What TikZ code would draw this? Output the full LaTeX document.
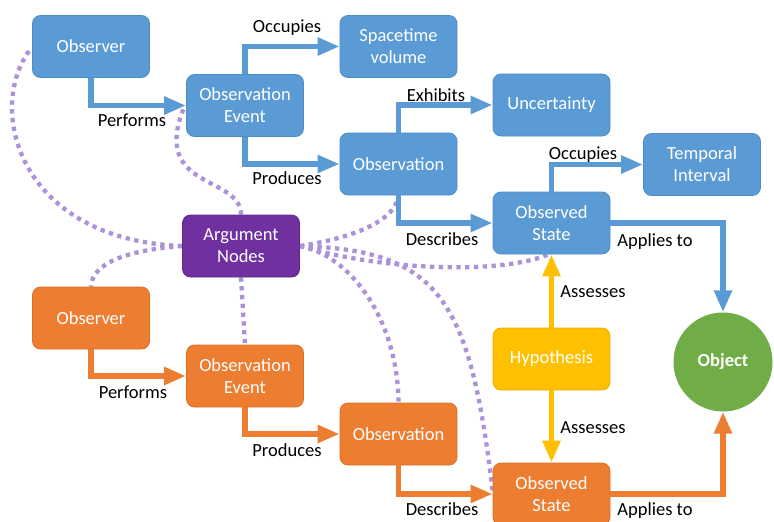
\documentclass[tikz,border=0pt]{standalone}
\usepackage{fontspec}
\setmainfont{Carlito}
\usetikzlibrary{arrows.meta,backgrounds,calc}
\definecolor{cblue}{HTML}{5B9BD5}
\definecolor{cblueedge}{HTML}{4F8CC6}
\definecolor{corange}{HTML}{ED7D31}
\definecolor{corangeedge}{HTML}{D96F28}
\definecolor{cyellow}{HTML}{FFC000}
\definecolor{cyellowedge}{HTML}{EBB000}
\definecolor{cgreen}{HTML}{70AD47}
\definecolor{cpurple}{HTML}{7030A0}
\definecolor{cpurpleedge}{HTML}{5F2790}
\definecolor{dotc}{HTML}{AD92DA}
\begin{document}
\begin{tikzpicture}[x=1pt,y=-1pt,
  box/.style={rectangle, rounded corners=8pt, minimum width=117pt, minimum height=62pt,
    align=center, text=white, line width=0.8pt, inner sep=2pt,
    font=\fontsize{18.5}{22}\selectfont},
  bluebox/.style={box, fill=cblue, draw=cblueedge},
  orbox/.style={box, fill=corange, draw=corangeedge},
  hypbox/.style={box, fill=cyellow, draw=cyellowedge},
  argbox/.style={box, fill=cpurple, draw=cpurpleedge},
  objnode/.style={circle, fill=cgreen, minimum size=99pt, inner sep=0pt, text=white,
    font=\fontsize{18.5}{22}\selectfont\bfseries},
  lbl/.style={anchor=base, text=black, inner sep=0pt, font=\fontsize{18.5}{22}\selectfont},
  flow/.style={line width=5.5pt, line join=miter, -{Triangle[length=22pt,width=17pt]}},
  argline/.style={draw=dotc, line width=4.3pt, dash pattern=on 4.3pt off 4.5pt}
]
\useasboundingbox (0,0) rectangle (774,522);

% boxes
\node[bluebox] (obs1) at (91,46.5) {Observer};
\node[bluebox] (evt1) at (245,105.5) {Observation\\Event};
\node[bluebox] (space) at (398.5,46.5) {Spacetime\\volume};
\node[bluebox] (unc) at (551.5,105) {Uncertainty};
\node[bluebox] (obsn1) at (398.5,164) {Observation};
\node[bluebox] (temp) at (702,164.5) {Temporal\\Interval};
\node[bluebox] (st1) at (551.5,223) {Observed\\State};
\node[argbox] (arg) at (241,246) {Argument\\Nodes};
\node[orbox] (obs2) at (91,318) {Observer};
\node[orbox] (evt2) at (245,376) {Observation\\Event};
\node[hypbox] (hyp) at (551.5,359) {Hypothesis};
\node[orbox] (obsn2) at (398.5,434) {Observation};
\node[orbox] (st2) at (551.5,494) {Observed\\State};
\node[objnode] (obj) at (723,362) {Object};

% dotted links from the argument node
\begin{scope}[on background layer]
\draw[argline] (arg.west) .. controls (20,240) and (-15,110) .. ($(obs1.west)+(-2,3)$);
\draw[argline] (arg.west) .. controls (130,250) and (92,262) .. (obs2.north);
\draw[argline] (arg.north) .. controls (241,175) and (150,190) .. ($(evt1.west)+(-2,2)$);
\draw[argline] (arg.south) -- (evt2.north);
\draw[argline] (arg.east) .. controls (340,240) and (395,225) .. (obsn1.south);
\draw[argline] (arg.east) .. controls (380,270) and (500,275) .. ($(st1.south)+(-3,0)$);
\draw[argline] (arg.east) .. controls (350,255) and (398,320) .. (obsn2.north);
\draw[argline] (arg.east) .. controls (440,250) and (470,300) .. ($(st2.west)+(0,-3)$);
\end{scope}

% blue relations
\draw[flow, cblue] (obs1.south) |- (evt1.west);
\draw[flow, cblue] (evt1.north) |- (space.west);
\draw[flow, cblue] (evt1.south) |- (obsn1.west);
\draw[flow, cblue] (obsn1.north) |- (unc.west);
\draw[flow, cblue] (obsn1.south) |- (st1.west);
\draw[flow, cblue] (st1.north) |- (temp.west);
\draw[flow, cblue] (st1.east) -| (obj.north);

% orange relations
\draw[flow, corange] (obs2.south) |- (evt2.west);
\draw[flow, corange] (evt2.south) |- (obsn2.west);
\draw[flow, corange] (obsn2.south) |- (st2.west);
\draw[flow, corange] (st2.east) -| (obj.south);

% hypothesis
\draw[flow, cyellow] (hyp.north) -- (st1.south);
\draw[flow, cyellow] (hyp.south) -- (st2.north);

% labels
\node[lbl] (l1) at (132,126) {Performs};
\node[lbl] (l2) at (287,32) {Occupies};
\node[lbl] (l3) at (287,184) {Produces};
\node[lbl] (l4) at (436,101) {Exhibits};
\node[lbl] (l5) at (583,159) {Occupies};
\node[lbl] (l6) at (442,245) {Describes};
\node[lbl] (l7) at (655,246) {Applies to};
\node[lbl] (l8) at (593,297) {Assesses};
\node[lbl] (l9) at (593,433) {Assesses};
\node[lbl] (l10) at (133,398) {Performs};
\node[lbl] (l11) at (287,456) {Produces};
\node[lbl] (l12) at (442,515) {Describes};
\node[lbl] (l13) at (655,515) {Applies to};
\end{tikzpicture}
\end{document}
